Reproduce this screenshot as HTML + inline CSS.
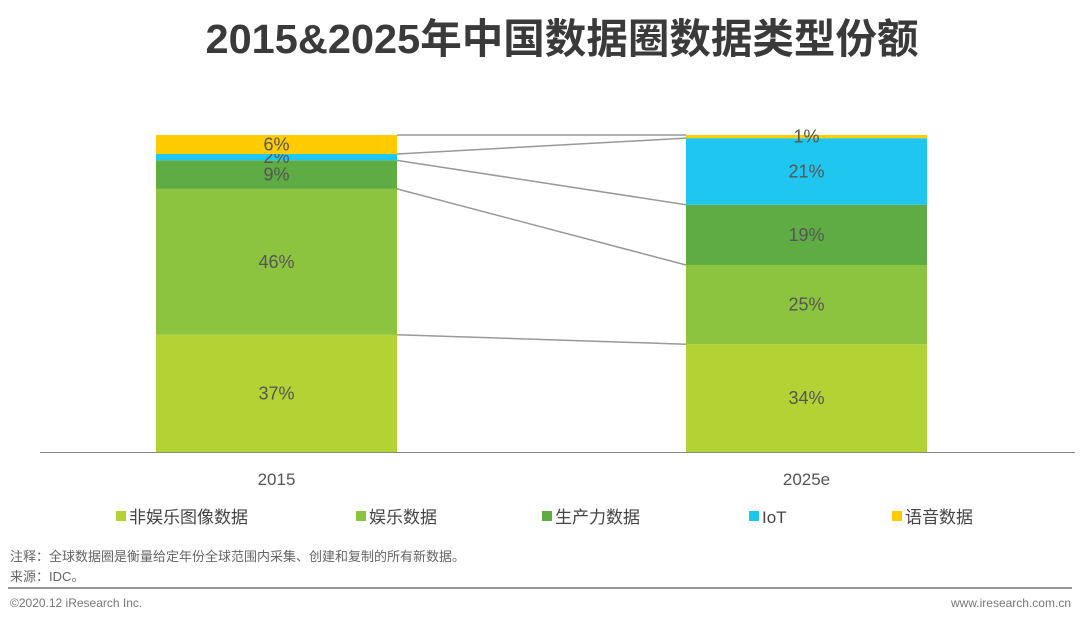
<!DOCTYPE html>
<html><head><meta charset="utf-8"><style>
body{margin:0;background:#fff;width:1080px;height:623px;overflow:hidden}
svg{display:block;font-family:"Liberation Sans","Noto Sans CJK SC",sans-serif}
</style></head><body>
<svg id="c" width="1080" height="623" xmlns="http://www.w3.org/2000/svg">
<text x="562" y="53" text-anchor="middle" font-size="41" font-weight="bold" fill="#3a3a3a" textLength="713" lengthAdjust="spacingAndGlyphs">2015&amp;2025年中国数据圈数据类型份额</text>
<g id="plot"></g>
<line x1="40" y1="452.5" x2="1075" y2="452.5" stroke="#888" stroke-width="1"/>
<text x="10" y="561" font-size="13" fill="#666">注释：全球数据圈是衡量给定年份全球范围内采集、创建和复制的所有新数据。</text>
<text x="10" y="581" font-size="13" fill="#666">来源：IDC。</text>
<line x1="8" y1="588" x2="1072" y2="588" stroke="#777" stroke-width="1.5"/>
<text x="10" y="607" font-size="12" fill="#777">©2020.12 iResearch Inc.</text>
<text x="1071" y="607" text-anchor="end" font-size="12" fill="#777">www.iresearch.com.cn</text>
</svg>
<script>
const categories=["2015","2025e"];
const seriesNames=["非娱乐图像数据","娱乐数据","生产力数据","IoT","语音数据"];
const s0=[37,34];
const s1=[46,25];
const s2=[9,19];
const s3=[2,21];
const s4=[6,1];
const colors=["#b3d233","#8cc43f","#5fab44","#1fc7f0","#ffcc00"];
const series=[s0,s1,s2,s3,s4];
const NS="http://www.w3.org/2000/svg";
const g=document.getElementById("plot");
const base=452,top0=135,bw=241;
const xs=[156,686];
function y(v){return base-(v/100)*(base-top0);}
function mk(t,a){const e=document.createElementNS(NS,t);for(const k in a)e.setAttribute(k,a[k]);g.appendChild(e);return e;}
const tops=[[],[]];
categories.forEach((c,i)=>{
  let cum=0;
  series.forEach((s,j)=>{
    const y0=y(cum),y1=y(cum+s[i]);cum+=s[i];tops[i].push(y1);
    const r=mk("rect",{x:xs[i],y:y1,width:bw,height:y0-y1,fill:colors[j]});
    
    
    const t=mk("text",{x:xs[i]+bw/2,y:(y0+y1)/2+6,"text-anchor":"middle","font-size":18,fill:"#555"});
    t.textContent=s[i]+"%";
    
    
  });
  const xl=mk("text",{x:xs[i]+bw/2,y:485,"text-anchor":"middle","font-size":17,fill:"#555"});
  xl.textContent=c;
  
  
});
for(let j=0;j<series.length;j++){
  const l=mk("line",{x1:xs[0]+bw,y1:tops[0][j],x2:xs[1],y2:tops[1][j],stroke:"#999","stroke-width":1.5});
  
  
}
const lx=[116,356,542,749,892];
seriesNames.forEach((n,j)=>{
  const r=mk("rect",{x:lx[j],y:511,width:10,height:10,fill:colors[j]});
  
  
  const t=mk("text",{x:lx[j]+13,y:523,"font-size":17,fill:"#444"});
  t.textContent=n;
  
  
});
</script>
</body></html>
